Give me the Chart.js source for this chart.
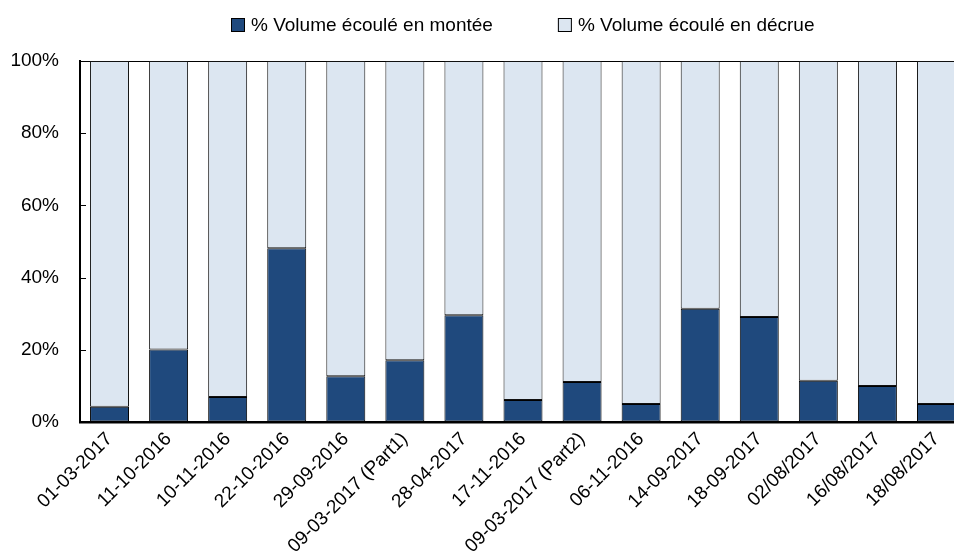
<!DOCTYPE html>
<html>
<head>
<meta charset="utf-8">
<script src="https://cdn.jsdelivr.net/npm/chart.js@4/dist/chart.umd.min.js"></script>
<style>
  html, body { margin: 0; padding: 0; background: #fff; overflow: hidden; }
  #wrap { position: relative; width: 966px; height: 560px; }
</style>
</head>
<body>
<div id="wrap"><canvas id="chart1"></canvas></div>
<script>
const dates = ['01-03-2017', '11-10-2016', '10-11-2016', '22-10-2016', '29-09-2016', '09-03-2017 (Part1)', '28-04-2017', '17-11-2016', '09-03-2017 (Part2)', '06-11-2016', '14-09-2017', '18-09-2017', '02/08/2017', '16/08/2017', '18/08/2017'];
const montee = [4.2, 20.1, 6.9, 48.1, 12.7, 17.1, 29.6, 6.1, 11.1, 5.0, 31.4, 29.1, 11.4, 10.0, 5.0];
const decrue = [95.8, 79.9, 93.1, 51.9, 87.3, 82.9, 70.4, 93.9, 88.9, 95.0, 68.6, 70.9, 88.6, 90.0, 95.0];
const yTicks = [0, 20, 40, 60, 80, 100];

const font = '"Liberation Sans", Arial, sans-serif';

// legend centred over the plot, plus inward y tick marks
const extras = {
  id: 'extras',
  afterDraw(chart) {
    const {ctx, chartArea, scales} = chart;
    ctx.save();
    ctx.strokeStyle = '#000';
    ctx.lineWidth = 1;
    yTicks.forEach(v => {
      const y = Math.round(scales.y.getPixelForValue(v)) + 0.5;
      ctx.beginPath();
      ctx.moveTo(chartArea.left, y);
      ctx.lineTo(chartArea.left + 6, y);
      ctx.stroke();
    });

    ctx.font = '19px ' + font;
    ctx.textBaseline = 'middle';
    ctx.textAlign = 'left';
    const sets = chart.data.datasets;
    const box = 14, gap = 6, space = 65;
    const widths = sets.map(d => box + gap + ctx.measureText(d.label).width);
    const total = widths.reduce((a, b) => a + b, 0) + space * (sets.length - 1);
    let x = Math.round((chartArea.left + chartArea.right) / 2 - total / 2);
    const cy = 25;
    sets.forEach((d, i) => {
      ctx.fillStyle = d.backgroundColor;
      ctx.fillRect(x, cy - box / 2, box, box);
      ctx.strokeStyle = '#000';
      ctx.strokeRect(x + 0.5, cy - box / 2 + 0.5, box - 1, box - 1);
      ctx.fillStyle = '#000';
      ctx.fillText(d.label, x + box + gap, cy + 1);
      x += widths[i] + space;
    });
    ctx.restore();
  }
};

const config1 = {
  type: 'bar',
  data: {
    labels: dates,
    datasets: [
      {
        label: '% Volume écoulé en montée',
        data: montee,
        backgroundColor: '#1f497d',
        borderColor: '#000',
        borderWidth: 1,
        borderSkipped: false
      },
      {
        label: '% Volume écoulé en décrue',
        data: decrue,
        backgroundColor: '#dce6f1',
        borderColor: '#111',
        borderWidth: 1,
        borderSkipped: false
      }
    ]
  },
  options: {
    responsive: true,
    maintainAspectRatio: false,
    animation: false,
    layout: { padding: { top: 61, right: 0, left: 0, bottom: 0 } },
    datasets: { bar: { barPercentage: 0.66, categoryPercentage: 1 } },
    plugins: {
      legend: { display: false },
      tooltip: { enabled: false }
    },
    scales: {
      x: {
        stacked: true,
        grid: { display: false, drawTicks: false },
        border: { display: true, color: '#000', width: 2.5 },
        ticks: {
          color: '#000',
          font: { family: font, size: 19 },
          minRotation: 45,
          maxRotation: 45,
          padding: 6,
          autoSkip: false
        },
        afterFit: (s) => { s.height = 138; }
      },
      y: {
        stacked: true,
        min: 0,
        max: 100,
        grid: {
          drawTicks: false,
          color: (c) => c.tick && c.tick.value === 100 ? '#000' : 'rgba(0,0,0,0)'
        },
        border: { display: true, color: '#000', width: 2 },
        ticks: {
          stepSize: 20,
          color: '#000',
          padding: 21,
          font: { family: font, size: 19 },
          callback: (v) => v + '%'
        },
        afterFit: (s) => { s.width = 80; }
      }
    }
  },
  plugins: [extras]
};

const chart1 = new Chart(document.getElementById('chart1'), config1);
</script>
</body>
</html>
